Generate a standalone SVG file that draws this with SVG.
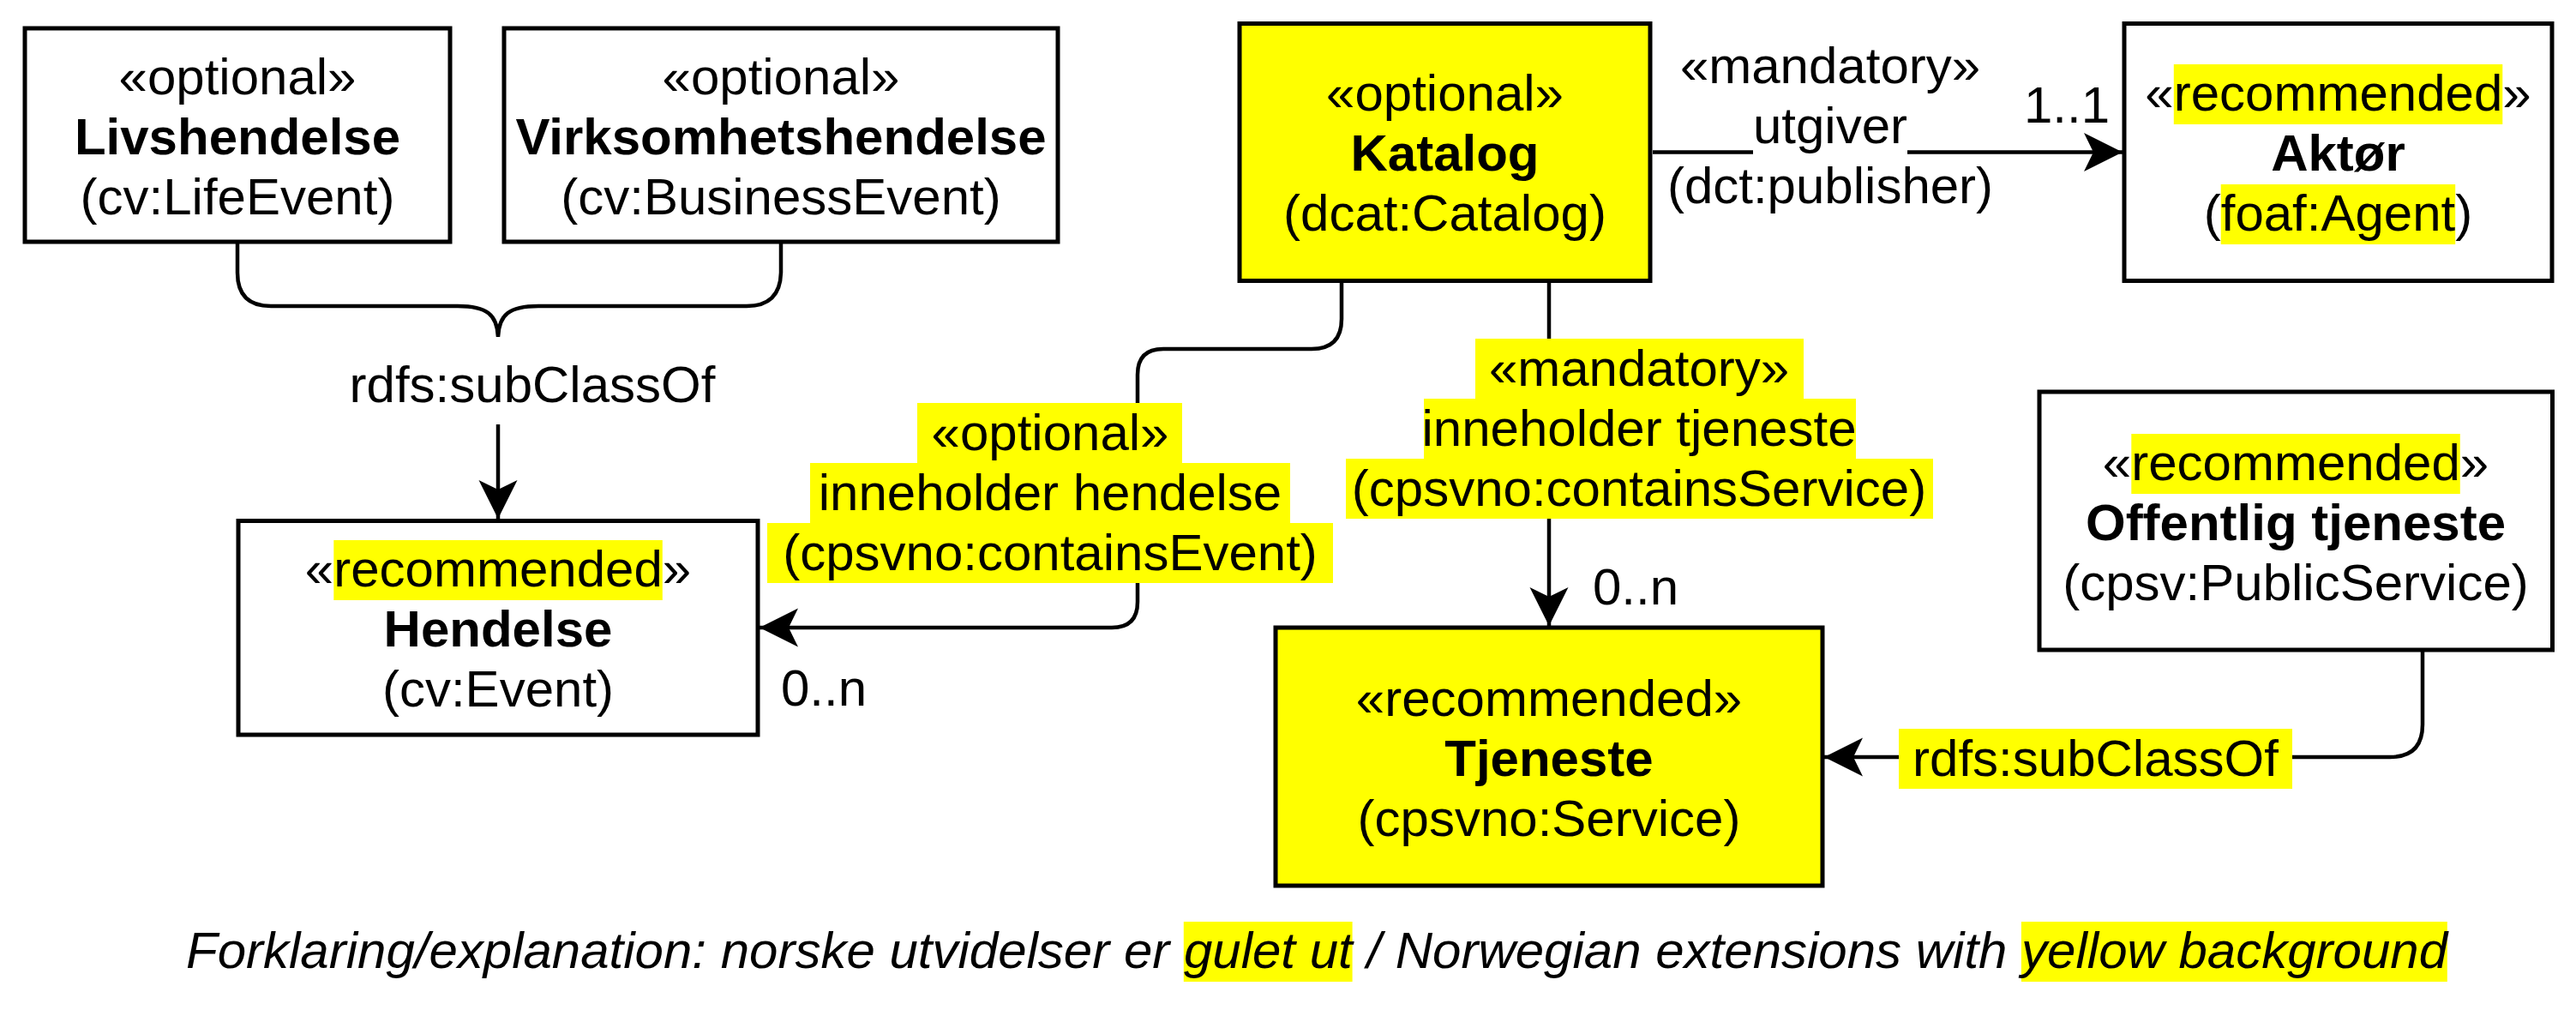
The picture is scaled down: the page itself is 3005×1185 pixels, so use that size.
<svg xmlns="http://www.w3.org/2000/svg" width="3005" height="1185" viewBox="0 0 3005 1185">
<style>
.n{fill:#fff;stroke:#000;stroke-width:5}
.ny{fill:#ff0;stroke:#000;stroke-width:5}
.hl{fill:#ff0}
.wb{fill:#fff}
.t{font-family:"Liberation Sans",Arial,Helvetica,sans-serif;font-size:60px;text-anchor:middle;fill:#000}
.s{text-anchor:start}
.b{font-weight:bold}
.i{font-style:italic}
.e{fill:none;stroke:#000;stroke-width:4.5}
.a{marker-end:url(#arr)}
</style>
<defs>
<marker id="arr" markerUnits="userSpaceOnUse" viewBox="-47 -24 49 48" refX="0" refY="0" markerWidth="49" markerHeight="48" orient="auto">
<path d="M0,0 L-45,-22.5 L-34,0 L-45,22.5 Z" fill="#000"/>
</marker>
</defs>
<rect width="3005" height="1185" fill="#fff"/>

<g id="connectors">
  <path id="brace" class="e" d="M277,284 V318 Q277,357 316,357 H534 C568,357 580,367 581,393 C582,367 594,357 628,357 H871 Q910,357 911,318 V284"/>
  <path id="e-subclass-hendelse" class="e a" d="M581,495 V605"/>
  <path id="e-katalog-hendelse" class="e a" d="M1565,330 V372 Q1565,407 1530,407 H1357 Q1327,407 1327,437 V702 Q1327,732 1297,732 H886"/>
  <path id="e-katalog-aktor" class="e a" d="M1928,177.5 H2476"/>
  <path id="e-katalog-tjeneste" class="e a" d="M1807,330 V730"/>
  <path id="e-offentlig-tjeneste" class="e a" d="M2826,760 V845 Q2826,883 2788,883 H2128"/>

  <g id="lbl-subclass-left">
    <text class="t" x="621" y="469">rdfs:subClassOf</text>
  </g>
  <g id="lbl-hendelse">
    <rect class="hl" x="1070" y="470" width="309" height="70"/>
    <rect class="hl" x="945" y="540" width="560" height="70"/>
    <rect class="hl" x="895" y="610" width="660" height="70"/>
    <text class="t" x="1225" y="525">«optional»</text>
    <text class="t" x="1225" y="595">inneholder hendelse</text>
    <text class="t" x="1225" y="665">(cpsvno:containsEvent)</text>
    <text class="t s" x="911" y="823">0..n</text>
  </g>
  <g id="lbl-aktor">
    <rect class="wb" x="1960" y="42" width="350" height="70"/>
    <rect class="wb" x="2045" y="112" width="180" height="70"/>
    <rect class="wb" x="1945" y="182" width="380" height="70"/>
    <text class="t" x="2135" y="97">«mandatory»</text>
    <text class="t" x="2135" y="167">utgiver</text>
    <text class="t" x="2135" y="237">(dct:publisher)</text>
    <text class="t s" x="2361" y="143">1..1</text>
  </g>
  <g id="lbl-tjeneste">
    <rect class="hl" x="1721" y="395" width="383" height="70"/>
    <rect class="hl" x="1661" y="465" width="504" height="70"/>
    <rect class="hl" x="1570" y="535" width="685" height="70"/>
    <text class="t" x="1912" y="450">«mandatory»</text>
    <text class="t" x="1912" y="520">inneholder tjeneste</text>
    <text class="t" x="1912" y="590">(cpsvno:containsService)</text>
    <text class="t s" x="1858" y="705">0..n</text>
  </g>
  <g id="lbl-subclass-right">
    <rect class="hl" x="2215" y="850" width="459" height="70"/>
    <text class="t" x="2444.5" y="905">rdfs:subClassOf</text>
  </g>
</g>

<g id="livshendelse">
  <rect class="n" x="29" y="33" width="496" height="249"/>
  <text class="t" x="277" y="110">«optional»</text>
  <text class="t b" x="277" y="180">Livshendelse</text>
  <text class="t" x="277" y="250">(cv:LifeEvent)</text>
</g>

<g id="virksomhetshendelse">
  <rect class="n" x="588" y="33" width="646" height="249"/>
  <text class="t" x="911" y="110">«optional»</text>
  <text class="t b" x="911" y="180">Virksomhetshendelse</text>
  <text class="t" x="911" y="250">(cv:BusinessEvent)</text>
</g>

<g id="katalog">
  <rect class="ny" x="1446" y="27.5" width="479" height="300"/>
  <text class="t" x="1685.5" y="129">«optional»</text>
  <text class="t b" x="1685.5" y="199">Katalog</text>
  <text class="t" x="1685.5" y="269">(dcat:Catalog)</text>
</g>

<g id="aktor">
  <rect class="n" x="2478" y="27.5" width="499" height="300"/>
  <rect class="hl" x="2535.8" y="75" width="383.5" height="70"/>
  <rect class="hl" x="2590.7" y="215" width="273.5" height="70"/>
  <text class="t" x="2727.5" y="129">«recommended»</text>
  <text class="t b" x="2727.5" y="199">Aktør</text>
  <text class="t" x="2727.5" y="269">(foaf:Agent)</text>
</g>

<g id="hendelse">
  <rect class="n" x="278" y="607.5" width="606" height="249.5"/>
  <rect class="hl" x="389.3" y="630" width="383.5" height="70"/>
  <text class="t" x="581" y="684">«recommended»</text>
  <text class="t b" x="581" y="754">Hendelse</text>
  <text class="t" x="581" y="824">(cv:Event)</text>
</g>

<g id="offentlig-tjeneste">
  <rect class="n" x="2379" y="457" width="598.5" height="301"/>
  <rect class="hl" x="2486.3" y="506" width="383.5" height="70"/>
  <text class="t" x="2678" y="560">«recommended»</text>
  <text class="t b" x="2678" y="630">Offentlig tjeneste</text>
  <text class="t" x="2678" y="700">(cpsv:PublicService)</text>
</g>

<g id="tjeneste">
  <rect class="ny" x="1488" y="732" width="638" height="301"/>
  <text class="t" x="1807" y="835">«recommended»</text>
  <text class="t b" x="1807" y="905">Tjeneste</text>
  <text class="t" x="1807" y="975">(cpsvno:Service)</text>
</g>

<g id="legend">
  <rect class="hl" x="1380.8" y="1075" width="196.8" height="70"/>
  <rect class="hl" x="2357.9" y="1075" width="496.9" height="70"/>
  <text class="t s i" x="217" y="1129">Forklaring/explanation: norske utvidelser er gulet ut / Norwegian extensions with yellow background</text>
</g>
</svg>
